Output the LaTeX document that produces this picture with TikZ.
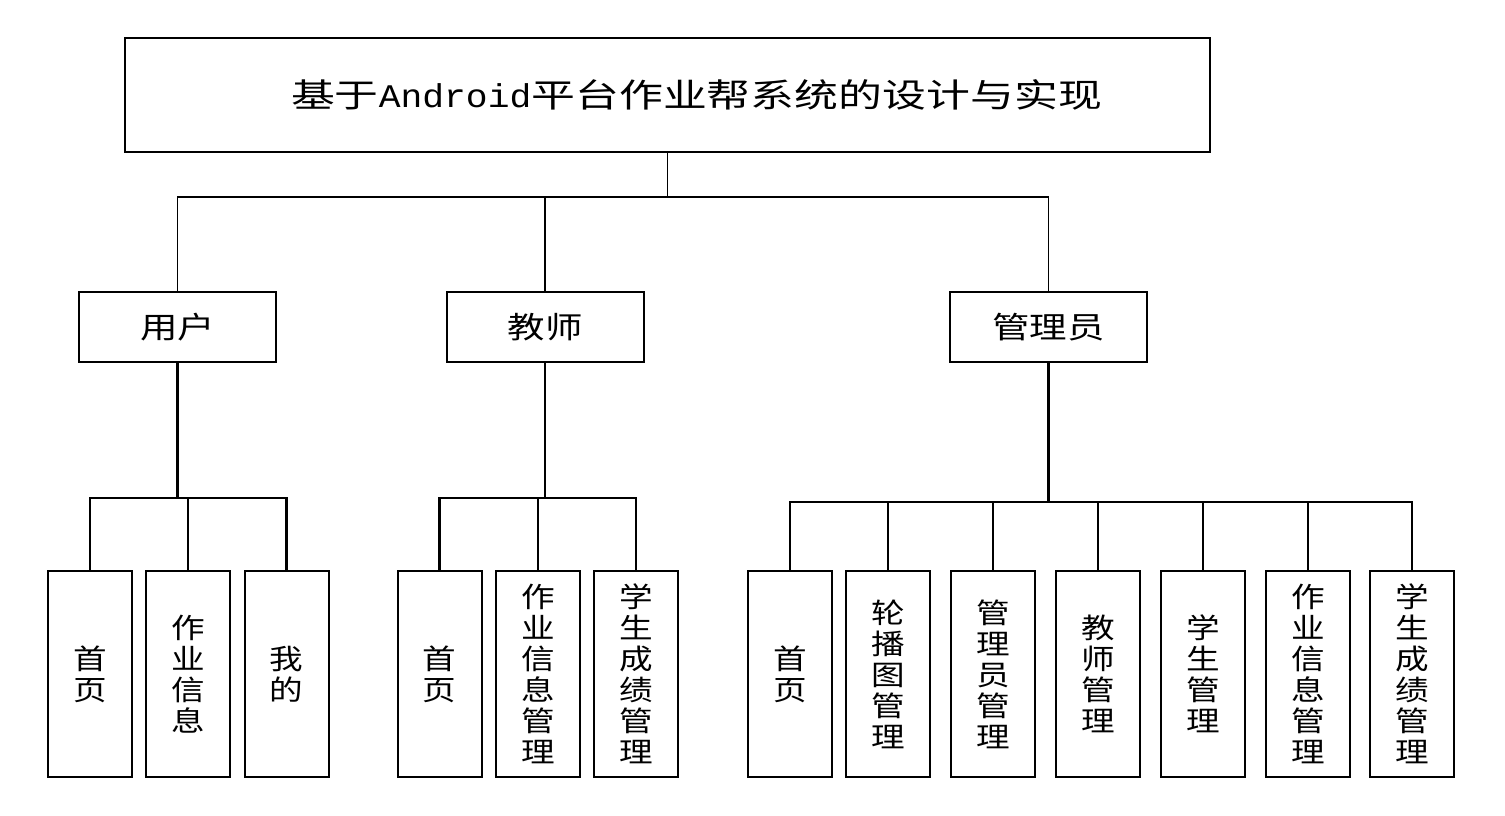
\documentclass[tikz,border=0pt]{standalone}
\usepackage{fontspec}
\setmainfont{Liberation Serif}
\newfontfamily\titlefont[FakeStretch=1.33]{Noto Sans CJK SC}
\newfontfamily\rolefont[FakeStretch=1.25]{Noto Sans CJK SC}
\newfontfamily\leaffont[FakeStretch=1.2]{Noto Sans CJK SC}
\newfontfamily\lat[FakeStretch=1.1]{Liberation Mono}
\usetikzlibrary{positioning, calc}

\begin{document}
\begin{tikzpicture}[x=1pt, y=-1pt, font=\leaffont]
\tikzset{
    titlebox/.style={draw, line width=1.5pt, rectangle, minimum width=1085pt, minimum height=114pt, inner sep=0pt, font=\titlefont\fontsize{33}{36}\selectfont},
    rolebox/.style={draw, line width=2pt, rectangle, minimum width=197pt, minimum height=70pt, inner sep=0pt, font=\rolefont\fontsize{30}{33}\selectfont},
    leafbox/.style={draw, line width=2pt, rectangle, minimum width=84pt, minimum height=206pt, inner sep=0pt, align=center, font=\leaffont\fontsize{28}{31}\selectfont},
    thinlink/.style={line width=1.3pt},
    thicklink/.style={line width=2.2pt}
}
\useasboundingbox (0,0) rectangle (1505,816);
\node[titlebox] (Title) at (667.5, 95) {\hspace*{58pt}基于{\lat Android}平台作业帮系统的设计与实现};
\node[rolebox] (User) at (177.5, 327) {用户};
\node[rolebox] (Teacher) at (545, 327) {教师};
\node[rolebox] (Admin) at (1048.5, 327) {管理员};
% top level
\coordinate (TopBus) at (667.5, 197);
\draw[thinlink] (Title) -- (TopBus); \draw[thinlink] (User.north) |- (TopBus) -| (Admin.north); \draw[thinlink] (Teacher.north) -- (Teacher.north |- TopBus);
% user
\node[leafbox] (U1) at (90, 674) {首\\页};
\node[leafbox] (U2) at (188, 674) {作\\业\\信\\息};
\node[leafbox] (U3) at (286.5, 674) {我\\的};
\coordinate (UBus) at (177.5, 498);
\draw[thicklink] (User) -- (UBus); \draw[thicklink] (U1.north) |- (UBus) -| (U3.north); \draw[thicklink] (U2.north) -- (U2.north |- UBus);
% teacher
\node[leafbox] (T1) at (439.5, 674) {首\\页};
\node[leafbox] (T2) at (538, 674) {作\\业\\信\\息\\管\\理};
\node[leafbox] (T3) at (636, 674) {学\\生\\成\\绩\\管\\理};
\coordinate (TBus) at (545, 498);
\draw[thicklink] (Teacher) -- (TBus); \draw[thicklink] (T1.north) |- (TBus) -| (T3.north); \draw[thicklink] (T2.north) -- (T2.north |- TBus);
% admin
\node[leafbox] (A1) at (790, 674) {首\\页};
\node[leafbox] (A2) at (888, 674) {轮\\播\\图\\管\\理};
\node[leafbox] (A3) at (993, 674) {管\\理\\员\\管\\理};
\node[leafbox] (A4) at (1098, 674) {教\\师\\管\\理};
\node[leafbox] (A5) at (1203, 674) {学\\生\\管\\理};
\node[leafbox] (A6) at (1308, 674) {作\\业\\信\\息\\管\\理};
\node[leafbox] (A7) at (1412, 674) {学\\生\\成\\绩\\管\\理};
\coordinate (ABus) at (1048.5, 502);
\draw[thicklink] (Admin) -- (ABus); \draw[thicklink] (A1.north) |- (ABus) -| (A7.north);
\draw[thicklink] (A2.north) -- (A2.north |- ABus); \draw[thicklink] (A3.north) -- (A3.north |- ABus); \draw[thicklink] (A4.north) -- (A4.north |- ABus);
\draw[thicklink] (A5.north) -- (A5.north |- ABus); \draw[thicklink] (A6.north) -- (A6.north |- ABus);
\end{tikzpicture}
\end{document}
